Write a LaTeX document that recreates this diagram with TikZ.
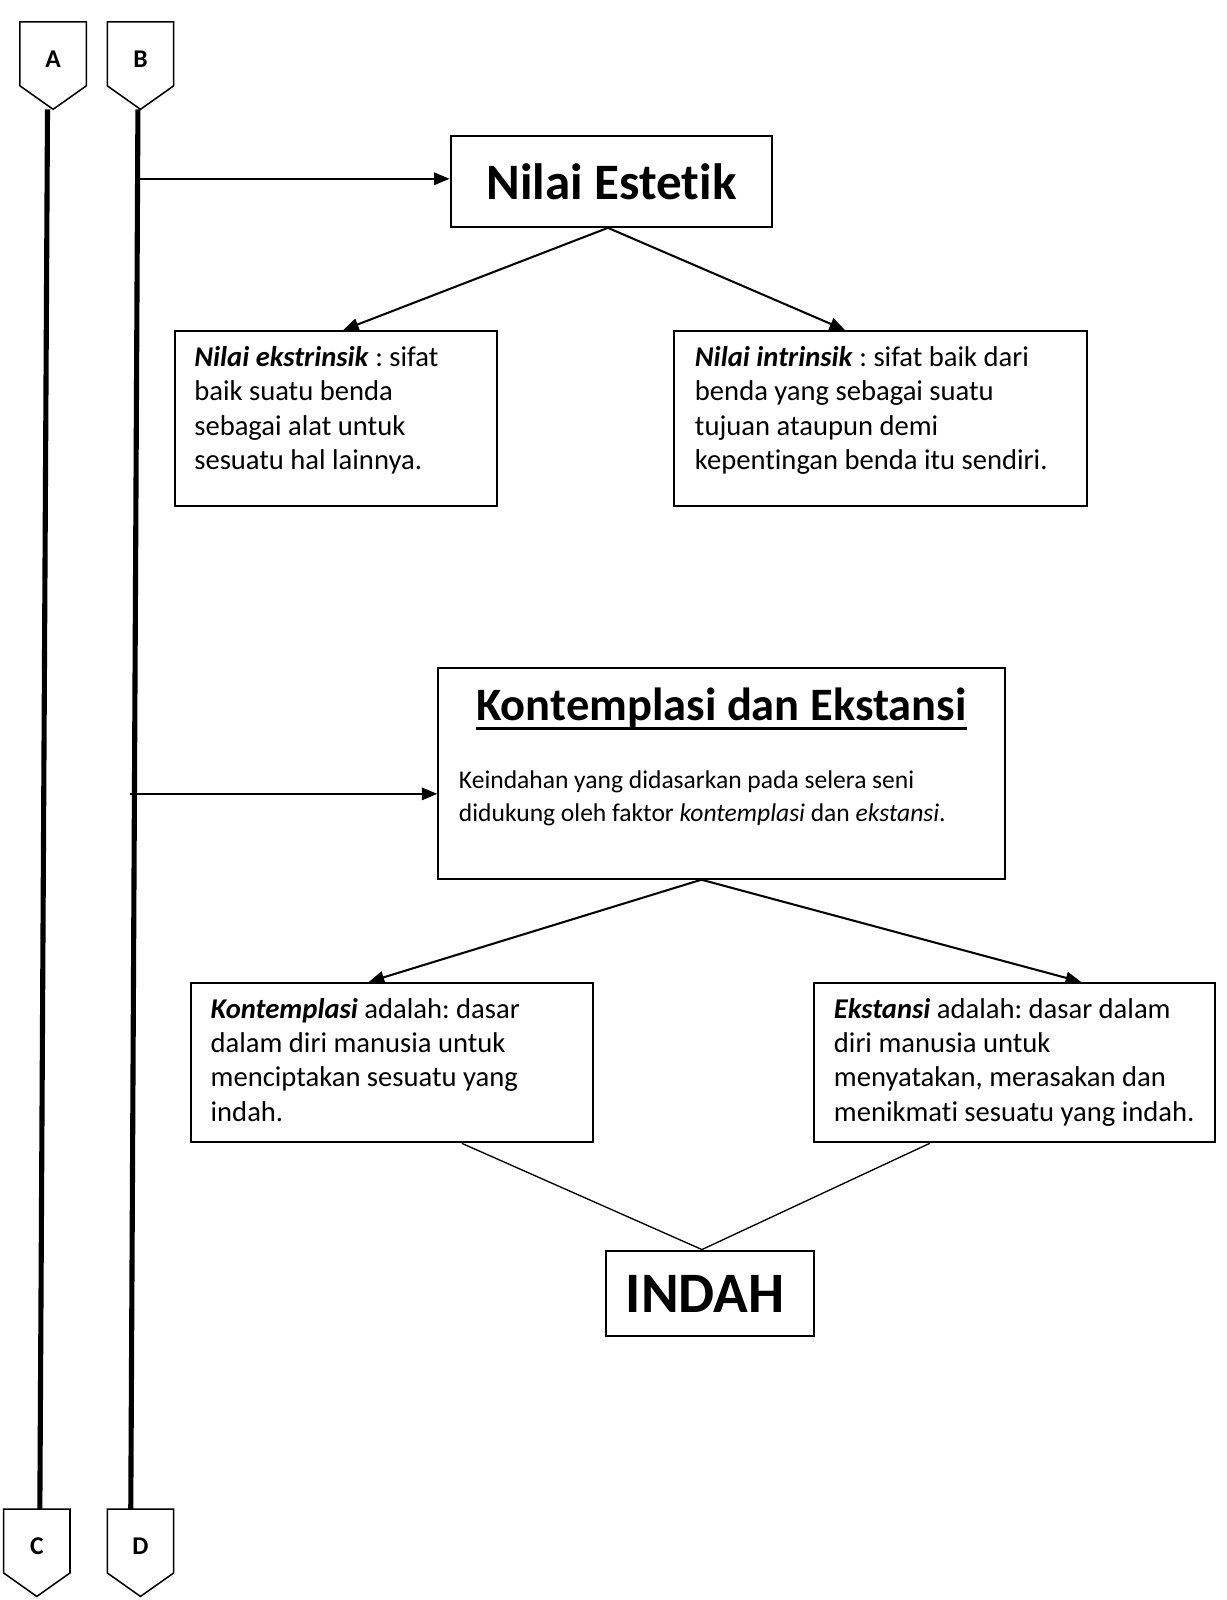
\documentclass[tikz,border=0pt]{standalone}
\usepackage{fontspec}
\setmainfont{Carlito}[Ligatures=NoCommon]
\usetikzlibrary{arrows.meta,calc}
\frenchspacing
\begin{document}
\begin{tikzpicture}[x=1pt,y=-1pt,
  box/.style={draw, line width=2pt, inner sep=0pt, anchor=north west},
  txt/.style={inner sep=0pt, anchor=north west, align=left, font=\fontsize{28}{33.5}\selectfont},
  arr/.style={line width=2pt, -{Triangle[length=15pt,width=12pt]}},
  thinline/.style={line width=1.3pt},
  bar/.style={line width=5pt},
  tag/.pic={
    \draw[line width=1.5pt] (-32.5,0) -- (32.5,0) -- (32.5,62.5) -- (0,85.5) -- (-32.5,62.5) -- cycle;
    \node[font=\fontsize{25}{28}\selectfont\bfseries, inner sep=0pt] (-lbl) at (0,36) {#1};
    \coordinate (-top) at (0,0);
    \coordinate (-tip) at (0,85.5);
  }
]
\useasboundingbox (0,0) rectangle (1200,1566);

% tags
\pic (pa) at (52,21.5) {tag=A};
\pic (pb) at (137.5,21.5) {tag=B};
\pic (pc) at (36,1477) {tag=C};
\pic (pd) at (137.5,1477) {tag=D};

% bars
\draw[bar] ([xshift=-5.5pt]pa-tip) -- ([xshift=3pt]pc-top);
\draw[bar] ([xshift=-2.5pt]pb-tip) -- ([xshift=-9.5pt]pd-top);

% Nilai Estetik
\node[box, minimum width=315pt, minimum height=89pt, font=\fontsize{50}{58}\selectfont\bfseries] (ne) at (440,132) {Nilai Estetik};

\node[box, minimum width=315pt, minimum height=171pt] (ek) at (170,323) {};
\node[txt] (ekt) at (190,339) {\textbf{\textit{Nilai ekstrinsik}} : sifat\\ baik suatu benda\\ sebagai alat untuk\\ sesuatu hal lainnya.};

\node[box, minimum width=404pt, minimum height=171pt] (ik) at (659,323) {};
\node[txt] (ikt) at (680,339) {\textbf{\textit{Nilai intrinsik}} : sifat baik dari\\ benda yang sebagai suatu\\ tujuan ataupun demi\\ kepentingan benda itu sendiri.};

% Kontemplasi dan Ekstansi
\node[box, minimum width=555pt, minimum height=206pt] (kd) at (428,653) {};
\node[inner sep=0pt, font=\fontsize{45.5}{52}\selectfont\bfseries] (kdt) at (706,693) {Kontemplasi dan Ekstansi};
\draw[line width=3.5pt] ([yshift=-7.5pt]kdt.base west) -- ([yshift=-7.5pt]kdt.base east);
\node[txt, font=\fontsize{25}{32}\selectfont] (kdb) at (449,754) {Keindahan yang didasarkan pada selera seni\\ didukung oleh faktor \textit{kontemplasi} dan \textit{ekstansi}.};

\node[box, minimum width=393pt, minimum height=156pt] (kp) at (186,961) {};
\node[txt] (kpt) at (206,977) {\textbf{\textit{Kontemplasi}} adalah: dasar\\ dalam diri manusia untuk\\ menciptakan sesuatu yang\\ indah.};

\node[box, minimum width=392pt, minimum height=156pt] (eks) at (796,961) {};
\node[txt] (ekst) at (816,977) {\textbf{\textit{Ekstansi}} adalah: dasar dalam\\ diri manusia untuk\\ menyatakan, merasakan dan\\ menikmati sesuatu yang indah.};

\node[box, minimum width=204pt, minimum height=84pt, font=\fontsize{56}{64}\selectfont\bfseries] (IN) at (592,1223) {\hspace*{-10pt}INDAH};

% connectors
\coordinate (b1) at (134.7,175);
\draw[arr] (b1) -- (b1 -| ne.west);
\draw[arr] ([xshift=-3.5pt]ne.south) -- ([xshift=7.5pt]ek.north);
\draw[arr] ([xshift=-3.5pt]ne.south) -- ([xshift=-35pt]ik.north);
\coordinate (b2) at (127,777);
\draw[arr] (b2) -- (b2 -| kd.west);
\draw[arr] ([xshift=-20pt]kd.south) -- ([xshift=-22.5pt]kp.north);
\draw[arr] ([xshift=-20pt]kd.south) -- ([xshift=65pt]eks.north);
\draw[thinline] ([xshift=68.5pt]kp.south) -- ([xshift=-8pt]IN.north);
\draw[thinline] ([xshift=-83pt]eks.south) -- ([xshift=-8pt]IN.north);
\end{tikzpicture}
\end{document}
